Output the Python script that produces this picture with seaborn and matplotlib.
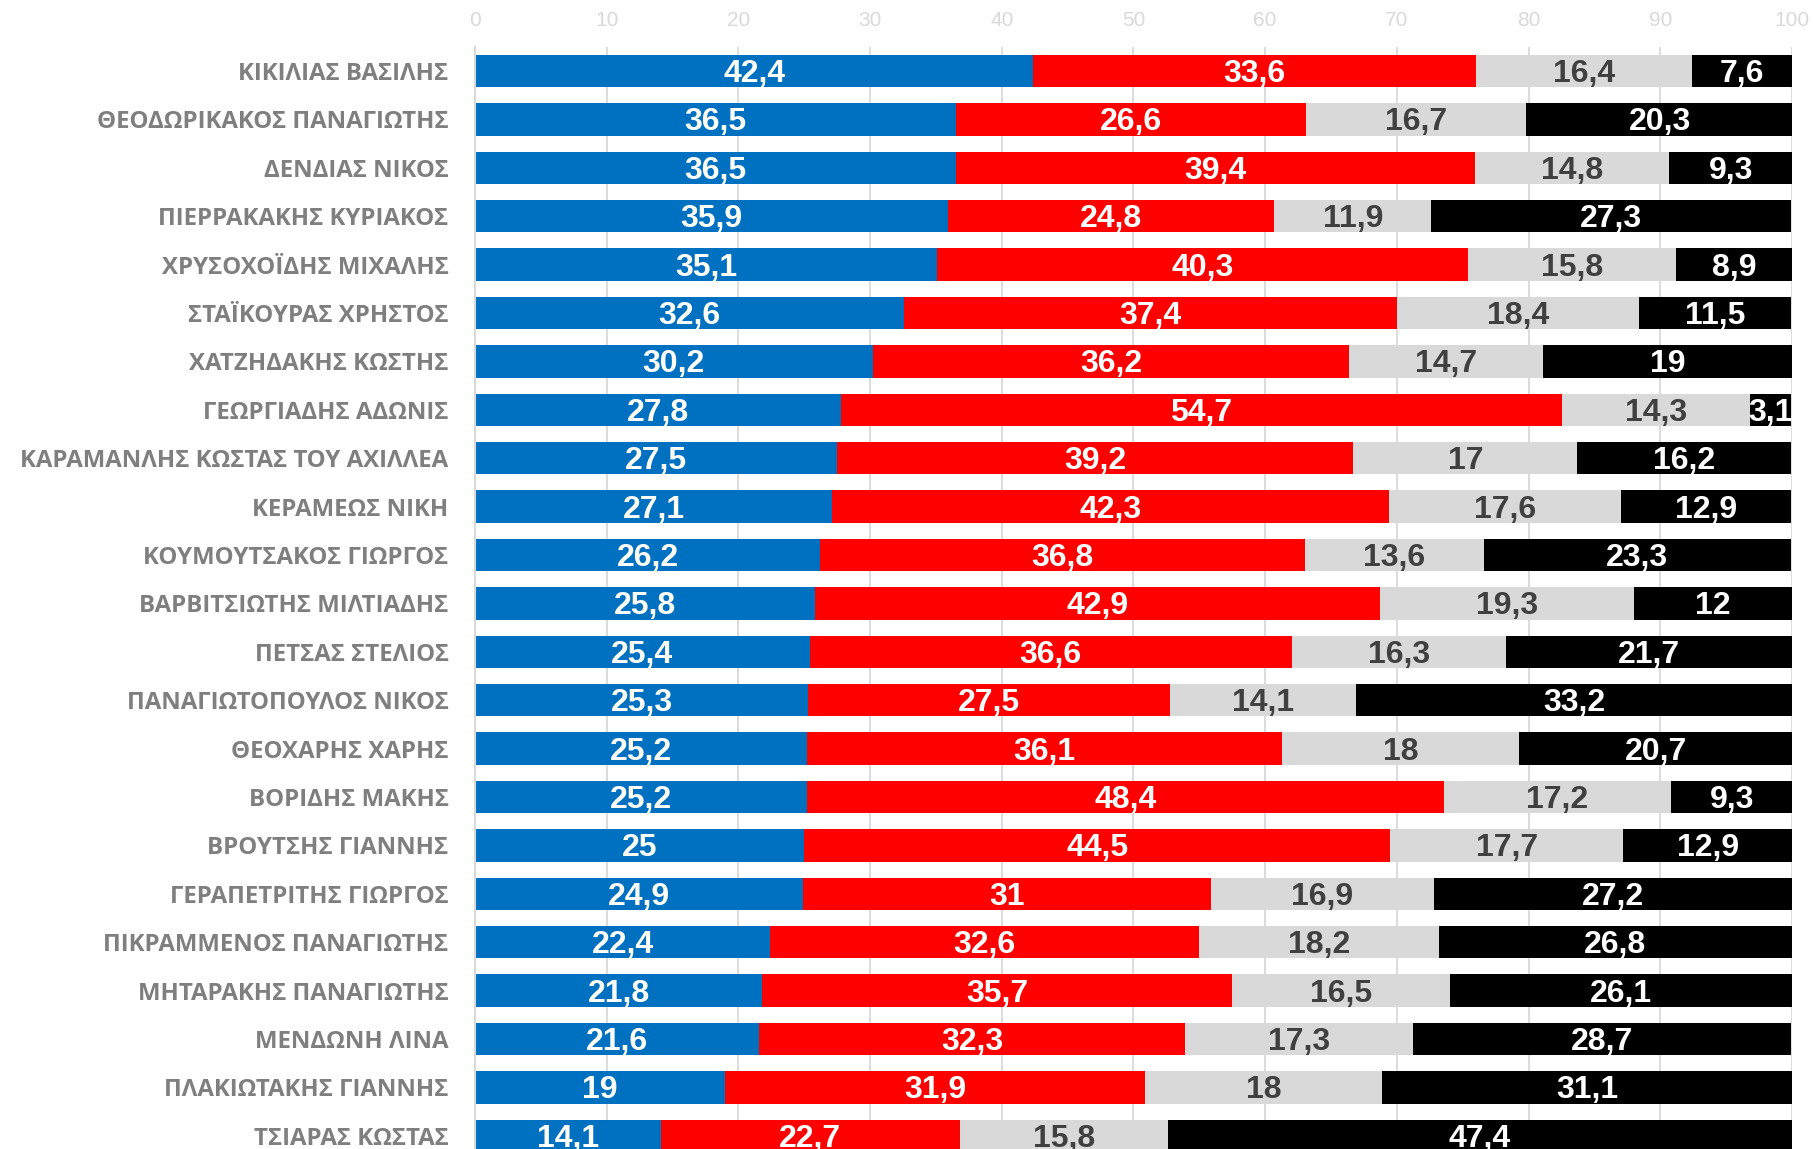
"""Stacked horizontal bar chart of ministers' ratings."""

import numpy as np
import pandas as pd
import seaborn as sns
import matplotlib
matplotlib.use("Agg")
from matplotlib import pyplot as plt
from matplotlib import font_manager

# Data
names = [
    "ΚΙΚΙΛΙΑΣ ΒΑΣΙΛΗΣ", "ΘΕΟΔΩΡΙΚΑΚΟΣ ΠΑΝΑΓΙΩΤΗΣ", "ΔΕΝΔΙΑΣ ΝΙΚΟΣ",
    "ΠΙΕΡΡΑΚΑΚΗΣ ΚΥΡΙΑΚΟΣ", "ΧΡΥΣΟΧΟΪΔΗΣ ΜΙΧΑΛΗΣ", "ΣΤΑΪΚΟΥΡΑΣ ΧΡΗΣΤΟΣ",
    "ΧΑΤΖΗΔΑΚΗΣ ΚΩΣΤΗΣ", "ΓΕΩΡΓΙΑΔΗΣ ΑΔΩΝΙΣ", "ΚΑΡΑΜΑΝΛΗΣ ΚΩΣΤΑΣ ΤΟΥ ΑΧΙΛΛΕΑ",
    "ΚΕΡΑΜΕΩΣ ΝΙΚΗ", "ΚΟΥΜΟΥΤΣΑΚΟΣ ΓΙΩΡΓΟΣ", "ΒΑΡΒΙΤΣΙΩΤΗΣ ΜΙΛΤΙΑΔΗΣ",
    "ΠΕΤΣΑΣ ΣΤΕΛΙΟΣ", "ΠΑΝΑΓΙΩΤΟΠΟΥΛΟΣ ΝΙΚΟΣ", "ΘΕΟΧΑΡΗΣ ΧΑΡΗΣ",
    "ΒΟΡΙΔΗΣ ΜΑΚΗΣ", "ΒΡΟΥΤΣΗΣ ΓΙΑΝΝΗΣ", "ΓΕΡΑΠΕΤΡΙΤΗΣ ΓΙΩΡΓΟΣ",
    "ΠΙΚΡΑΜΜΕΝΟΣ ΠΑΝΑΓΙΩΤΗΣ", "ΜΗΤΑΡΑΚΗΣ ΠΑΝΑΓΙΩΤΗΣ", "ΜΕΝΔΩΝΗ ΛΙΝΑ",
    "ΠΛΑΚΙΩΤΑΚΗΣ ΓΙΑΝΝΗΣ", "ΤΣΙΑΡΑΣ ΚΩΣΤΑΣ",
]
positive = [42.4, 36.5, 36.5, 35.9, 35.1, 32.6, 30.2, 27.8, 27.5, 27.1, 26.2, 25.8,
            25.4, 25.3, 25.2, 25.2, 25.0, 24.9, 22.4, 21.8, 21.6, 19.0, 14.1]
negative = [33.6, 26.6, 39.4, 24.8, 40.3, 37.4, 36.2, 54.7, 39.2, 42.3, 36.8, 42.9,
            36.6, 27.5, 36.1, 48.4, 44.5, 31.0, 32.6, 35.7, 32.3, 31.9, 22.7]
neutral = [16.4, 16.7, 14.8, 11.9, 15.8, 18.4, 14.7, 14.3, 17.0, 17.6, 13.6, 19.3,
           16.3, 14.1, 18.0, 17.2, 17.7, 16.9, 18.2, 16.5, 17.3, 18.0, 15.8]
no_answer = [7.6, 20.3, 9.3, 27.3, 8.9, 11.5, 19.0, 3.1, 16.2, 12.9, 23.3, 12.0,
             21.7, 33.2, 20.7, 9.3, 12.9, 27.2, 26.8, 26.1, 28.7, 31.1, 47.4]
ticks = list(range(0, 101, 10))

colors = ["#0070C0", "#FF0000", "#D9D9D9", "#000000"]
text_colors = ["white", "white", "#404040", "white"]

available = {f.name for f in font_manager.fontManager.ttflist}
narrow = "Liberation Sans Narrow" if "Liberation Sans Narrow" in available else "Liberation Sans"

sns.set_theme(style="white")
plt.rcParams["font.family"] = ["Open Sans", "DejaVu Sans"]

layers = np.array([positive, negative, neutral, no_answer])
cum = np.cumsum(layers, axis=0)

fig = plt.figure(figsize=(18.13, 11.49), dpi=100)
ax = fig.add_axes([0.262, -0.0096, 0.7264, 0.9688])

# draw cumulative totals back to front so each segment shows
for i in reversed(range(4)):
    d = pd.DataFrame({"name": names, "value": cum[i]})
    sns.barplot(data=d, x="value", y="name", orient="y", color=colors[i],
                saturation=1, width=0.67, errorbar=None, linewidth=0, ax=ax)

# segment labels
for i in range(4):
    start = cum[i] - layers[i]
    for j, v in enumerate(layers[i]):
        ax.text(start[j] + v / 2, j + 0.06, f"{v:g}".replace(".", ","),
                ha="center", va="center", color=text_colors[i],
                fontsize=23, fontweight="bold", family=[narrow, "DejaVu Sans"])

ax.set_xlim(0, 100)
ax.set_xticks(ticks)
ax.xaxis.tick_top()
ax.tick_params(axis="x", length=0, pad=12, labelsize=15, labelcolor="#d9d9d9")
for lbl in ax.get_xticklabels():
    lbl.set_family([narrow, "DejaVu Sans"])
ax.tick_params(axis="y", length=0, pad=19, labelsize=17.3, labelcolor="#7f7f7f")
for lbl in ax.get_yticklabels():
    lbl.set_fontweight("bold")
ax.grid(axis="x", color="#d9d9d9", linewidth=1.3)
ax.grid(axis="y", visible=False)
ax.set_axisbelow(True)
ax.set_xlabel("")
ax.set_ylabel("")
for side in ["top", "right", "bottom"]:
    ax.spines[side].set_visible(False)
ax.spines["left"].set_color("#d9d9d9")
ax.spines["left"].set_linewidth(1.5)

plt.savefig("out.png", dpi=100)
plt.close(fig)
